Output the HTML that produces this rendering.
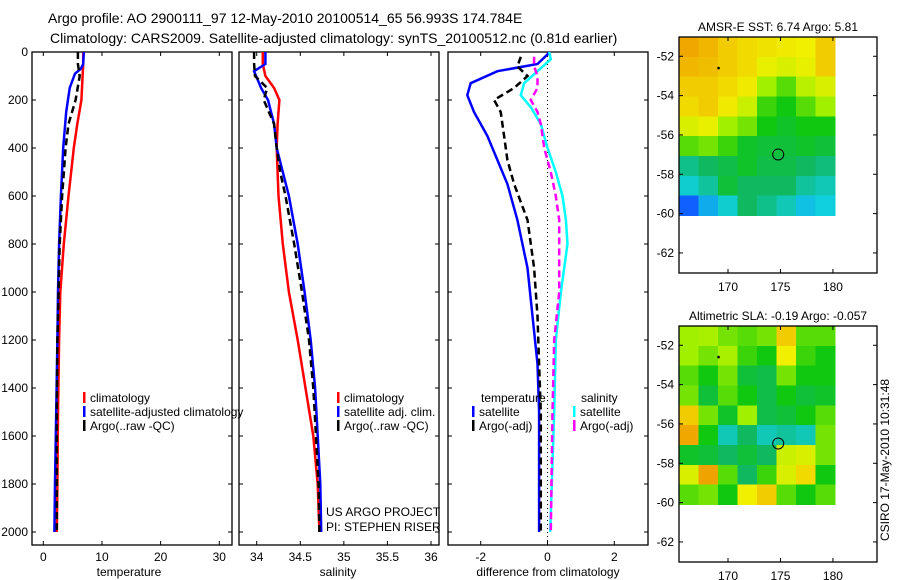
<!DOCTYPE html>
<html><head><meta charset="utf-8"><style>
body{margin:0;background:#fff}
svg{display:block;font-family:"Liberation Sans",sans-serif}
</style></head><body>
<svg id="c" width="900" height="580" viewBox="0 0 900 580">
<text x="48" y="23" font-size="14">Argo profile: AO 2900111_97 12-May-2010 20100514_65 56.993S 174.784E</text>
<text x="50" y="43" font-size="14">Climatology: CARS2009. Satellite-adjusted climatology: synTS_20100512.nc (0.81d earlier)</text>
<text transform="translate(889,460) rotate(-90)" text-anchor="middle" font-size="12">CSIRO 17-May-2010 10:31:48</text>
</svg>
<script>
// ---- data ----
const depthTicks=[0,200,400,600,800,1000,1200,1400,1600,1800,2000];
const tempTicks=[0,10,20,30];
const salTicks=[34,34.5,35,35.5,36];
const diffTicks=[-2,0,2];
const tClimD=[0,50,100,200,300,400,600,800,1000,1200,1500,1800,2000];
const tClimV=[6.8,6.8,6.7,6.5,5.8,5.2,4.3,3.5,2.9,2.7,2.5,2.4,2.3];
const tSatD=[0,50,70,90,150,250,400,600,800,1000,1200,1500,1800,2000];
const tSatV=[6.9,6.8,6.4,5.4,4.5,3.9,3.4,3.0,2.7,2.5,2.4,2.2,2.0,1.9];
const tArgoD=[0,50,100,200,300,400,600,800,1000,1200,1500,2000];
const tArgoV=[5.9,5.9,6.2,5.5,4.3,3.8,3.2,2.8,2.6,2.4,2.3,2.3];
const sClimD=[0,50,100,150,200,300,400,500,600,800,1000,1200,1400,1600,1800,2000];
const sClimV=[34.07,34.07,34.1,34.2,34.26,34.24,34.23,34.24,34.25,34.3,34.37,34.47,34.56,34.65,34.7,34.72];
const sSatD=[0,50,80,150,200,300,400,500,600,800,1000,1200,1400,1600,1800,2000];
const sSatV=[34.1,34.1,33.97,34.05,34.13,34.2,34.23,34.3,34.37,34.47,34.55,34.62,34.67,34.7,34.73,34.74];
const sArgoD=[0,50,100,150,200,300,400,500,600,800,1000,1200,1400,1600,1800,2000];
const sArgoV=[33.97,33.97,33.98,34.12,34.08,34.2,34.23,34.27,34.33,34.43,34.52,34.6,34.65,34.68,34.71,34.72];
const dTSatD=[0,10,50,80,130,180,250,350,450,550,700,900,1100,1300,1500,2000];
const dTSatV=[0.05,0,-0.3,-1.5,-2.3,-2.4,-2.2,-1.8,-1.5,-1.2,-0.9,-0.6,-0.45,-0.3,-0.25,-0.25];
const dTArgoD=[20,60,100,150,200,250,350,450,550,700,900,1100,1300,1500,2000];
const dTArgoV=[-0.8,-0.9,-0.6,-1.0,-1.6,-1.4,-1.3,-1.2,-1.0,-0.6,-0.4,-0.3,-0.25,-0.2,-0.2];
const dSSatD=[0,30,80,130,180,230,300,400,500,600,700,800,1000,1200,1500,2000];
const dSSatV=[0.05,0.1,-0.3,-0.7,-0.8,-0.5,-0.2,0.0,0.25,0.45,0.55,0.6,0.4,0.25,0.2,0.08];
const dSArgoD=[20,60,100,150,200,250,300,400,500,600,700,800,1000,1200,1500,2000];
const dSArgoV=[-0.4,-0.4,-0.3,-0.3,-0.5,-0.3,-0.2,-0.1,0.1,0.25,0.35,0.35,0.35,0.2,0.15,0.1];
const sstGrid=[
[.85,.83,.8,.78,.77,.76,.75,.8],
[.83,.82,.8,.78,.74,.72,.74,.8],
[.8,.8,.78,.76,.65,.6,.68,.72],
[.78,.8,.76,.7,.58,.55,.6,.65],
[.72,.74,.65,.62,.55,.52,.55,.55],
[.6,.62,.58,.52,.5,.5,.52,.5],
[.4,.45,.48,.52,.48,.48,.45,.42],
[.32,.38,.5,.45,.45,.45,.38,.35],
[.15,.25,.32,.45,.4,.35,.28,.3]];
const slaGrid=[
[.65,.66,.62,.6,.62,.8,.6,.6],
[.65,.62,.66,.58,.55,.75,.58,.55],
[.6,.55,.62,.5,.48,.62,.55,.55],
[.62,.5,.6,.55,.48,.55,.5,.52],
[.8,.62,.52,.65,.48,.5,.55,.6],
[.85,.55,.35,.45,.35,.38,.35,.62],
[.52,.5,.45,.5,.45,.7,.72,.62],
[.72,.86,.6,.45,.58,.72,.78,.55],
[.6,.62,.55,.75,.8,.6,.55,.6]];
const sstTitle="AMSR-E SST: 6.74 Argo: 5.81";
const slaTitle="Altimetric SLA: -0.19 Argo: -0.057";
// ---- drawing ----
const S=document.getElementById('c'),NS='http://www.w3.org/2000/svg';
function mk(t,a,p){const e=document.createElementNS(NS,t);for(const k in a)e.setAttribute(k,a[k]);(p||S).appendChild(e);return e;}
const Y0=52,YS=0.24,PB=545;
const yD=d=>Y0+d*YS;
function axisX(lo,hi,a,b){return v=>a+(v-lo)*(b-a)/(hi-lo);}
const xT=axisX(0,30,43.3,219.3),xS=axisX(34,36,256.7,431),xDf=axisX(-2,2,480.7,614.3);
function frame(x1,x2,y1,y2,name){const r=mk('rect',{x:x1,y:y1,width:x2-x1,height:y2-y1,fill:'none',stroke:'#000','stroke-width':1.3});}
function line(D,V,xf,col,dash,name,w){
  const p=D.map((d,i)=>(i?'L':'M')+xf(V[i]).toFixed(1)+','+yD(d).toFixed(1)).join('');
  const e=mk('path',{d:p,fill:'none',stroke:col,'stroke-width':w||2.5});
  if(dash)e.setAttribute('stroke-dasharray',dash);
  
  
}
function txt(x,y,s,size,anchor,name){const e=mk('text',{x:x,y:y,'font-size':size||12,'text-anchor':anchor||'start'});e.textContent=s;return e;}
const panels=[[32,232],[239,439],[448,648]];
panels.forEach((p,i)=>{
  frame(p[0],p[1],Y0,PB,'profile-panel-'+(i+1));
  depthTicks.forEach(d=>{mk('line',{x1:p[0],x2:p[0]+4,y1:yD(d),y2:yD(d),stroke:'#000'});mk('line',{x1:p[1],x2:p[1]-4,y1:yD(d),y2:yD(d),stroke:'#000'});});
});
depthTicks.forEach(d=>txt(28,yD(d)+4,String(d),12,'end','depth-tick-label'));
function xt(ticks,xf,name){ticks.forEach(v=>{mk('line',{x1:xf(v),x2:xf(v),y1:PB,y2:PB-4,stroke:'#000'});mk('line',{x1:xf(v),x2:xf(v),y1:Y0,y2:Y0+4,stroke:'#000'});txt(xf(v),561,String(v),12,'middle',name);});}
xt(tempTicks,xT,'temperature-tick-label');xt(salTicks,xS,'salinity-tick-label');xt(diffTicks,xDf,'difference-tick-label');
txt(129,576,'temperature',12,'middle','x-axis-title-temperature');
txt(338,576,'salinity',12,'middle','x-axis-title-salinity');
txt(548,576,'difference from climatology',12,'middle','x-axis-title-difference');
const z=mk('line',{x1:xDf(0),x2:xDf(0),y1:Y0,y2:PB,stroke:'#000','stroke-dasharray':'1,3'});

line(tClimD,tClimV,xT,'#f00',null,'temp-climatology-line');
line(tSatD,tSatV,xT,'#00f',null,'temp-satellite-line');
line(tArgoD,tArgoV,xT,'#000','7,4','temp-argo-line');
line(sClimD,sClimV,xS,'#f00',null,'sal-climatology-line');
line(sSatD,sSatV,xS,'#00f',null,'sal-satellite-line');
line(sArgoD,sArgoV,xS,'#000','7,4','sal-argo-line');
line(dTSatD,dTSatV,xDf,'#00f',null,'diff-temp-satellite-line');
line(dTArgoD,dTArgoV,xDf,'#000','7,4','diff-temp-argo-line');
line(dSSatD,dSSatV,xDf,'#0ff',null,'diff-sal-satellite-line');
line(dSArgoD,dSArgoV,xDf,'#f0f','7,4','diff-sal-argo-line');
function leg(x,y,col,label){mk('rect',{x:x,y:y-10,width:2.5,height:11,fill:col});txt(x+7,y,label,12,'start','legend-entry');}
leg(83,402,'#f00','climatology');leg(83,416,'#00f','satellite-adjusted climatology');leg(83,430,'#000','Argo(..raw -QC)');
leg(337,402,'#f00','climatology');leg(337,416,'#00f','satellite adj. clim.');leg(337,430,'#000','Argo(..raw -QC)');
txt(481,402,'temperature',12,'start','legend-title-temperature');
leg(472,416,'#00f','satellite');leg(472,430,'#000','Argo(-adj)');
txt(581,402,'salinity',12,'start','legend-title-salinity');
leg(573,416,'#0ff','satellite');leg(573,430,'#f0f','Argo(-adj)');
txt(326,516,'US ARGO PROJECT',12,'start','pi-project-label');
txt(326,531,'PI: STEPHEN RISER',12,'start','pi-name-label');
const stops=[[0,[0,0,144]],[.15,[16,96,255]],[.3,[16,208,224]],[.45,[16,184,96]],[.55,[16,200,16]],[.65,[160,240,0]],[.75,[240,240,0]],[.85,[240,168,0]],[1,[224,96,0]]];
function cmap(v){for(let i=1;i<stops.length;i++){if(v<=stops[i][0]){const a=stops[i-1],b=stops[i],t=(v-a[0])/(b[0]-a[0]);return 'rgb('+a[1].map((c,k)=>Math.round(c+(b[1][k]-c)*t)).join(',')+')';}}return 'rgb(224,96,0)';}
function map(top,B,grid,title,name){
  const L=679,R=877,lonA=165.33,lonB=184.2,latT=-51.02,ls=(B-top)/12.0;
  const xl=axisX(lonA,lonB,L,R),yl=lat=>top+(latT-lat)*ls;
  const g=mk('g',{'shape-rendering':'crispEdges'});
  
  const nr=grid.length,nc=grid[0].length,lon0=lonA,lon1=180.2,lat0=latT,lat1=-60.1;
  grid.forEach((row,r)=>row.forEach((v,c)=>{
    const x1=xl(lon0+(lon1-lon0)*c/nc),x2=xl(lon0+(lon1-lon0)*(c+1)/nc);
    const y1=yl(lat0+(lat1-lat0)*r/nr),y2=yl(lat0+(lat1-lat0)*(r+1)/nr);
    mk('rect',{x:x1.toFixed(1),y:y1.toFixed(1),width:(x2-x1+0.5).toFixed(1),height:(y2-y1+0.5).toFixed(1),fill:cmap(v)},g);
  }));
  frame(L,R,top,B,name+'-frame');
  [-52,-54,-56,-58,-60,-62].forEach(l=>{mk('line',{x1:L,x2:L+4,y1:yl(l),y2:yl(l),stroke:'#000'});mk('line',{x1:R,x2:R-4,y1:yl(l),y2:yl(l),stroke:'#000'});txt(L-5,yl(l)+4,String(l),12,'end',name+'-lat-label');});
  [170,175,180].forEach(l=>{mk('line',{x1:xl(l),x2:xl(l),y1:B,y2:B-4,stroke:'#000'});mk('line',{x1:xl(l),x2:xl(l),y1:top,y2:top+4,stroke:'#000'});txt(xl(l),B+18,String(l),12,'middle',name+'-lon-label');});
  txt((L+R)/2,top-6,title,12,'middle',name+'-title');
  const c=mk('circle',{cx:xl(174.784),cy:yl(-56.993),r:5.5,fill:'none',stroke:'#000'});
  
  mk('circle',{cx:xl(169.1),cy:yl(-52.6),r:1.3,fill:'#000'});
}
map(37,273,sstGrid,sstTitle,'sst-map');
map(326,562,slaGrid,slaTitle,'sla-map');
</script>
</body></html>
